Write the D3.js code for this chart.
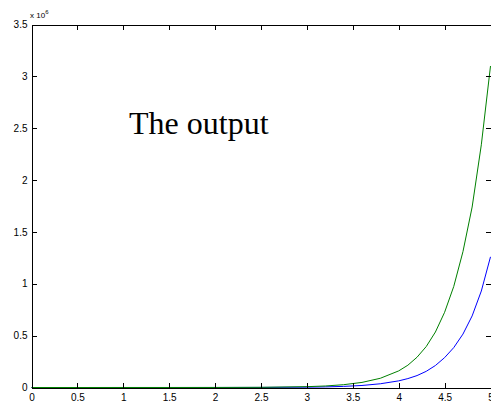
<!DOCTYPE html>
<html><head><meta charset="utf-8">
<script src="https://cdn.jsdelivr.net/npm/d3@7"></script>
<style>
html,body{margin:0;padding:0;background:#fff;}
svg{display:block;}
.axis text{font-family:"Liberation Sans",Arial,sans-serif;font-size:10px;fill:#000;}
.axis path,.axis line{stroke:#000;shape-rendering:crispEdges;}
</style></head>
<body>
<script>
// data (values in units of 1e6)
const xs     = [0, 0.5, 1.0, 1.5, 2.0, 2.5, 3.0, 3.2, 3.4, 3.6, 3.8, 4.0, 4.1, 4.2, 4.3, 4.4, 4.5, 4.6, 4.7, 4.8, 4.9, 5.0];
const green  = [0, 0, 0.00002, 0.0001, 0.0004, 0.0018, 0.0081, 0.0146, 0.027, 0.049, 0.089, 0.160, 0.215, 0.292, 0.395, 0.535, 0.725, 0.975, 1.31, 1.74, 2.34, 3.10];
const blue   = [0, 0, 0.00001, 0.00004, 0.00016, 0.0007, 0.0032, 0.0058, 0.0107, 0.0195, 0.036, 0.064, 0.086, 0.115, 0.156, 0.212, 0.288, 0.385, 0.515, 0.69, 0.93, 1.26];
const xTicks = [0, 0.5, 1, 1.5, 2, 2.5, 3, 3.5, 4, 4.5, 5];
const yTicks = [0, 0.5, 1, 1.5, 2, 2.5, 3, 3.5];
const titleText = "The output";

const W = 491, H = 402;
const L = 31, R = 490, T = 24, B = 387;
const svg = d3.select("body").append("svg").attr("width", W).attr("height", H);

const x = d3.scaleLinear().domain([0, 5]).range([L + 0.5, R + 0.5]);
const y = d3.scaleLinear().domain([0, 3.5]).range([B + 0.5, T + 0.5]);

// curves
const line = d3.line().x((d, i) => x(xs[i])).y(d => y(d));
svg.append("path").datum(blue).attr("d", line).attr("fill", "none").attr("stroke", "#0000ff").attr("stroke-width", 1);
svg.append("path").datum(green).attr("d", line).attr("fill", "none").attr("stroke", "#008000").attr("stroke-width", 1);

// axes
const fmt = d => String(d);
svg.append("g").attr("class", "axis").attr("transform", `translate(0,${B + 0.5})`)
  .call(d3.axisBottom(x).tickValues(xTicks).tickFormat(fmt).tickSize(-5).tickSizeOuter(0).tickPadding(6));
svg.append("g").attr("class", "axis").attr("transform", `translate(0,${T + 0.5})`)
  .call(d3.axisTop(x).tickValues(xTicks).tickFormat("").tickSize(-5).tickSizeOuter(0));
svg.append("g").attr("class", "axis").attr("transform", `translate(${L + 0.5},0)`)
  .call(d3.axisLeft(y).tickValues(yTicks).tickFormat(fmt).tickSize(-5).tickSizeOuter(0).tickPadding(4));
svg.append("g").attr("class", "axis").attr("transform", `translate(${R + 0.5},0)`)
  .call(d3.axisRight(y).tickValues(yTicks).tickFormat("").tickSize(-5).tickSizeOuter(0));

// exponent label
const ex = svg.append("text").attr("x", 30).attr("y", 18)
  .attr("font-family", "Liberation Sans, Arial, sans-serif").attr("font-size", 8).attr("fill", "#000");
ex.append("tspan").text("x 10");
ex.append("tspan").attr("dy", -4).attr("font-size", 6).text("6");

// title text
svg.append("text").attr("x", 129).attr("y", 134)
  .attr("font-family", "Liberation Serif, Times New Roman, serif").attr("font-size", 32).attr("fill", "#000")
  .text(titleText);
</script>
</body></html>
